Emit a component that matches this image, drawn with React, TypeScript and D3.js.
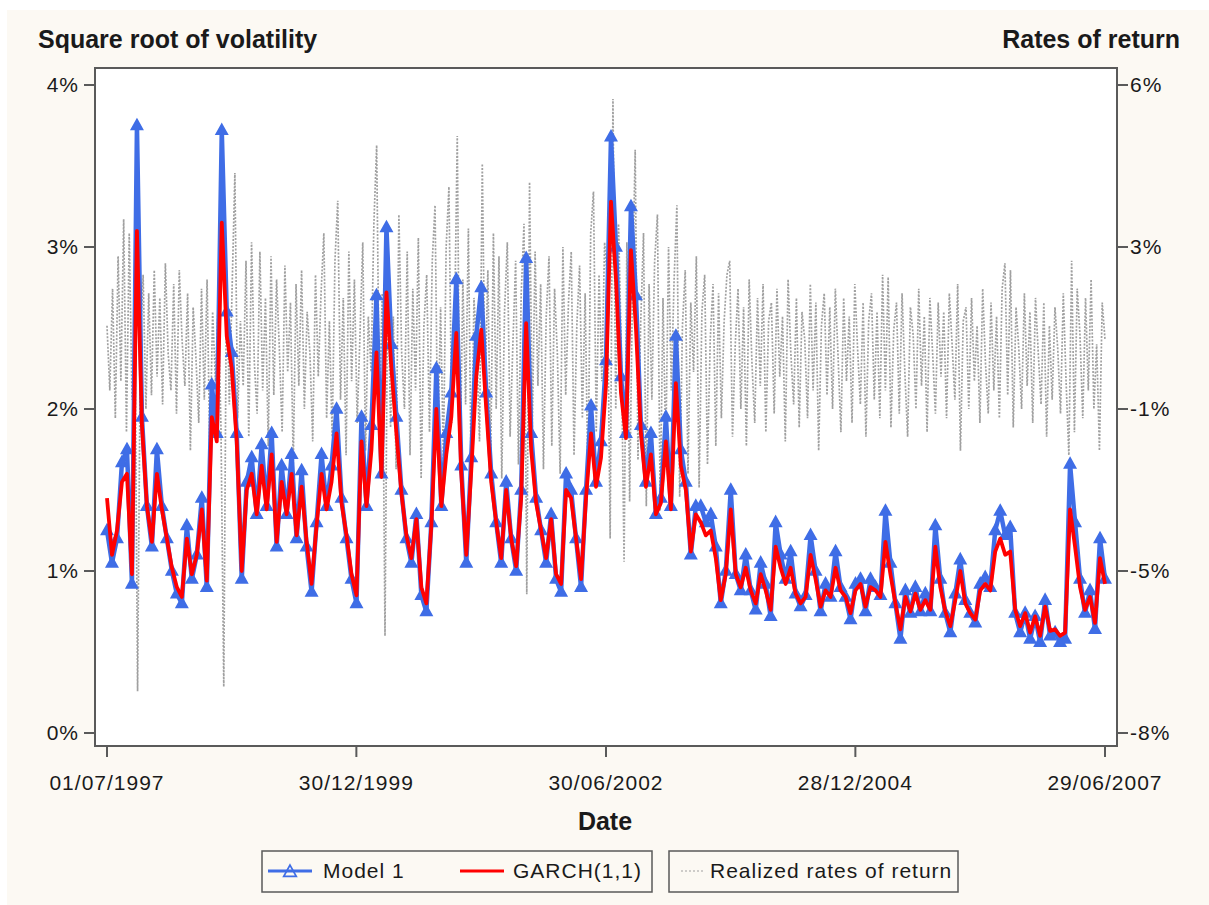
import React from 'react';
import * as d3 from 'd3';

// sampling window of the series
const startDate = new Date(1997, 6, 1);
const endDate = new Date(2007, 5, 29);

const dateTicks = ['1997-07-01', '1999-12-30', '2002-06-30', '2004-12-28', '2007-06-29'];
const volTicks = [0, 1, 2, 3, 4];

// square root of volatility, % (Model 1)
const model1 = [
  1.25, 1.05, 1.20, 1.67, 1.75, 0.92, 3.75, 1.95, 1.40, 1.15,
  1.75, 1.40, 1.20, 1.00, 0.86, 0.80, 1.28, 0.95, 1.10, 1.45,
  0.90, 2.15, 1.85, 3.72, 2.60, 2.35, 1.85, 0.95, 1.55, 1.70,
  1.35, 1.78, 1.40, 1.85, 1.15, 1.65, 1.35, 1.72, 1.20, 1.62,
  1.15, 0.87, 1.30, 1.72, 1.40, 1.65, 2.00, 1.45, 1.20, 0.95,
  0.80, 1.95, 1.40, 1.90, 2.70, 1.60, 3.12, 2.40, 1.95, 1.50,
  1.20, 1.05, 1.35, 0.85, 0.75, 1.30, 2.25, 1.40, 1.85, 2.10,
  2.80, 1.65, 1.05, 1.70, 2.45, 2.75, 2.10, 1.60, 1.30, 1.05,
  1.55, 1.20, 1.00, 1.50, 2.93, 1.85, 1.45, 1.25, 1.05, 1.35,
  0.95, 0.87, 1.60, 1.50, 1.20, 0.90, 1.50, 2.02, 1.55, 1.80,
  2.30, 3.68, 3.00, 2.20, 1.85, 3.25, 2.70, 1.90, 1.55, 1.85,
  1.35, 1.45, 1.95, 1.40, 2.45, 1.75, 1.55, 1.10, 1.40, 1.40,
  1.30, 1.35, 1.15, 0.80, 1.00, 1.50, 0.98, 0.88, 1.10, 0.88,
  0.76, 1.05, 0.92, 0.72, 1.30, 1.10, 0.95, 1.12, 0.86, 0.78,
  0.85, 1.22, 1.00, 0.75, 0.92, 0.84, 1.12, 0.90, 0.84, 0.70,
  0.92, 0.95, 0.75, 0.95, 0.90, 0.85, 1.37, 1.05, 0.80, 0.58,
  0.88, 0.74, 0.90, 0.75, 0.86, 0.75, 1.28, 0.95, 0.74, 0.62,
  0.86, 1.07, 0.82, 0.74, 0.68, 0.92, 0.96, 0.90, 1.25, 1.37,
  1.22, 1.27, 0.74, 0.62, 0.74, 0.58, 0.72, 0.56, 0.82, 0.60,
  0.62, 0.56, 0.58, 1.66, 1.30, 0.95, 0.74, 0.88, 0.64, 1.20,
  0.95
];

// square root of volatility, % (GARCH(1,1))
const garch = [
  1.45, 1.10, 1.25, 1.55, 1.60, 0.98, 3.10, 1.90, 1.40, 1.18,
  1.60, 1.38, 1.20, 1.02, 0.90, 0.84, 1.20, 0.98, 1.10, 1.38,
  0.94, 1.95, 1.80, 3.15, 2.45, 2.25, 1.80, 1.00, 1.50, 1.60,
  1.35, 1.65, 1.38, 1.72, 1.18, 1.55, 1.35, 1.60, 1.22, 1.52,
  1.18, 0.92, 1.28, 1.60, 1.38, 1.55, 1.85, 1.42, 1.22, 0.98,
  0.85, 1.80, 1.40, 1.75, 2.35, 1.58, 2.72, 2.25, 1.85, 1.48,
  1.22, 1.08, 1.32, 0.90, 0.80, 1.28, 2.00, 1.40, 1.72, 1.95,
  2.47, 1.60, 1.10, 1.62, 2.20, 2.49, 2.00, 1.55, 1.30, 1.08,
  1.50, 1.20, 1.03, 1.45, 2.53, 1.75, 1.42, 1.25, 1.08, 1.32,
  0.98, 0.92, 1.50, 1.45, 1.20, 0.95, 1.45, 1.85, 1.52, 1.70,
  2.15, 3.28, 2.80, 2.10, 1.82, 2.98, 2.50, 1.85, 1.52, 1.72,
  1.35, 1.42, 1.80, 1.38, 2.16, 1.65, 1.50, 1.12, 1.35, 1.30,
  1.22, 1.25, 1.08, 0.82, 0.98, 1.38, 0.98, 0.90, 1.02, 0.88,
  0.80, 0.98, 0.88, 0.76, 1.15, 1.02, 0.92, 1.02, 0.86, 0.80,
  0.84, 1.10, 0.95, 0.78, 0.88, 0.84, 1.02, 0.88, 0.84, 0.74,
  0.88, 0.92, 0.78, 0.90, 0.88, 0.84, 1.18, 0.98, 0.80, 0.64,
  0.84, 0.75, 0.86, 0.76, 0.82, 0.76, 1.15, 0.90, 0.75, 0.66,
  0.82, 1.00, 0.80, 0.74, 0.70, 0.88, 0.92, 0.88, 1.12, 1.20,
  1.10, 1.12, 0.76, 0.66, 0.74, 0.62, 0.72, 0.60, 0.78, 0.63,
  0.64, 0.60, 0.62, 1.38, 1.15, 0.90, 0.76, 0.84, 0.68, 1.08,
  0.92
];

// realized rates of return, %
const returns = [
  0.8, -0.6, 1.6, -1.2, 2.3, -0.4, 3.1, -1.5, 2.8, -0.8, 1.2, -7.1, 0.4, 1.9, -1.0, 1.5, -0.7, 2.0, -0.3, 1.4,
  -0.9, 2.15, 0.2, -0.6, 1.7, -1.1, 2.0, 0.5, -0.5, 1.5, -1.9, 1.2, 0.1, -1.3, 1.6, -0.8, 1.8, -2.0, 1.1, -0.4,
  1.3, -1.4, -7.0, 2.0, -0.9, 1.6, 4.1, -1.2, 0.9, -0.5, 2.2, -1.6, 2.6, 0.0, -1.1, 2.4, -0.6, 1.4, -1.8, 2.3,
  -0.7, 1.8, 0.3, -1.5, 2.1, -0.2, 1.3, -2.2, 1.7, -0.5, 2.0, -1.0, 1.1, 0.2, -1.7, 1.9, -0.3, 1.5, 2.8, -1.2,
  0.9, -1.6, 2.2, 3.5, -0.8, 1.4, -2.0, 2.4, -0.4, 1.8, -1.3, 0.6, 2.6, -1.9, 1.0, -0.2, 3.0, 4.7, -1.1, 1.5,
  -5.9, 2.1, -1.4, 1.0, -2.3, 3.2, 0.2, -1.0, 2.4, -2.0, 1.6, -0.6, 2.7, -2.5, 0.8, 1.9, -1.5, 2.2, 3.4, -1.8,
  1.2, -2.1, 2.5, 3.8, -1.3, 0.7, 4.9, -2.4, 1.8, -0.9, 2.9, -2.5, 1.4, 0.3, -1.7, 4.3, -0.6, 2.0, -2.2, 2.8,
  -1.0, 2.3, -2.5, 1.1, 2.6, -1.6, 0.4, 2.2, -2.2, 1.5, 3.0, -5.0, 3.9, -1.4, 2.4, -0.5, 1.7, -2.3, 1.0, 2.3,
  -1.8, 1.6, 0.2, -2.4, 2.5, -0.7, 1.3, 2.4, -2.0, 0.8, 2.1, -1.2, 1.5, -2.6, 2.8, 3.7, -1.5, 1.9, -0.4, 2.6,
  1.8, -3.8, 5.7, -1.0, 3.0, 0.4, -4.3, 2.6, -3.0, 1.5, 4.6, -2.1, 0.9, 2.8, -3.1, 1.7, -0.8, 2.2, 3.2, -3.2,
  1.4, -1.9, 2.5, -0.6, 1.8, 3.4, -2.9, 0.8, 2.0, -2.4, 1.3, -0.2, 2.3, -2.7, 1.1, 1.9, -2.2, 0.5, 1.7, -1.8,
  1.5, -1.2, 0.9, 1.9, 2.2, -1.6, 0.4, 1.6, -1.0, 1.2, -1.8, 1.8, 0.0, -1.3, 1.4, -0.5, 1.7, -1.5, 0.9, 1.3,
  -1.1, 1.6, -0.3, 1.0, -1.7, 1.8, 0.2, -0.9, 1.4, -1.4, 1.1, 0.5, -1.2, 1.7, -0.6, 1.3, -1.9, 0.8, 1.5, -0.7,
  1.2, -1.0, 1.6, 0.1, -1.5, 1.4, -0.4, 1.0, -1.3, 1.7, 0.3, -0.9, 1.3, -1.6, 0.9, 1.5, -0.8, 1.1, -1.2, 1.9,
  -0.6, 1.85, -1.4, 0.7, 1.3, -1.1, 1.5, -0.2, -1.6, 1.2, 0.6, -1.0, 1.6, -0.5, 1.0, -1.5, 1.4, 0.2, -1.1, 1.3,
  -0.3, 1.1, -1.2, 1.5, 0.4, -0.8, 1.7, -1.9, 0.9, 1.2, -1.0, 1.4, -0.4, 0.8, -1.3, 1.6, 0.0, -1.1, 1.3, -0.6,
  1.0, -1.2, 1.6, 2.15, -0.7, 2.0, -1.4, 1.2, 0.3, -1.0, 1.5, -0.5, 1.1, -1.3, 1.4, 0.2, -0.9, 1.3, -1.6, 0.8,
  -0.8, 1.2, 0.3, -1.1, 1.5, -0.4, -2.0, 2.2, -1.5, 1.6, 0.6, -1.2, 1.4, -0.6, 1.8, -1.0, 0.4, -1.9, 1.3, 0.5
];

const W = 1209;
const H = 905;
const frame = { left: 95, right: 1117, top: 68, bottom: 746 };

const BLUE = '#3f6de6';
const RED = '#ff0000';
const GREY = '#a0a0a0';
const INK = '#1a1a1a';
const FONT = '"Liberation Sans", Arial, sans-serif';

const parseDay = d3.timeParse('%Y-%m-%d');
const fmtDay = d3.timeFormat('%d/%m/%Y');

// spread n observations evenly over the sampling window
const datesFor = (n: number) => {
  const span = +endDate - +startDate;
  return d3.range(n).map(i => new Date(+startDate + (span * i) / (n - 1)));
};

const x = d3.scaleTime().domain([startDate, endDate]).range([107, 1105]);
const yVol = d3.scaleLinear().domain([0, 4]).range([733, 85]);
const yRet = d3.scaleLinear().domain([-8, 6]).range([733, 85]);

const pctRound = (v: number) => `${Math.sign(v) * Math.round(Math.abs(v))}%`;

const triangle = 'M0,-5.5 L5,3.5 L-5,3.5 Z';

export default function App() {
  const volDates = datesFor(model1.length);
  const retDates = datesFor(returns.length);

  const volLine = d3.line<number>()
    .x((_, i) => x(volDates[i]))
    .y(d => yVol(d));
  const retLine = d3.line<number>()
    .x((_, i) => x(retDates[i]))
    .y(d => yRet(d));

  const textStyle = { fontFamily: FONT, fontSize: 21, letterSpacing: 1, fill: INK } as const;
  const boldStyle = { fontFamily: FONT, fontSize: 25, fontWeight: 'bold', fill: INK } as const;

  return (
    <svg width={W} height={H} style={{ position: 'absolute', left: 0, top: 0, display: 'block' }}>
      <rect x={0} y={0} width={W} height={H} fill="#ffffff" />
      <rect x={7} y={10} width={W - 7} height={H - 10} fill="#fcf9f3" />

      <defs>
        <clipPath id="plotClip">
          <rect x={frame.left} y={frame.top} width={frame.right - frame.left} height={frame.bottom - frame.top} />
        </clipPath>
      </defs>

      <rect x={frame.left} y={frame.top} width={frame.right - frame.left} height={frame.bottom - frame.top} fill="#ffffff" />

      <g clipPath="url(#plotClip)">
        <path d={retLine(returns) || ''} fill="none" stroke={GREY} strokeWidth={1.7} strokeDasharray="2 1.5" />
        <path d={volLine(model1) || ''} fill="none" stroke={BLUE} strokeWidth={4.5} strokeLinejoin="round" />
        {model1.map((v, i) => (
          <path key={i} d={triangle} transform={`translate(${x(volDates[i])},${yVol(v)}) scale(1.1)`}
            fill={BLUE} stroke={BLUE} strokeWidth={1.6} />
        ))}
        <path d={volLine(garch) || ''} fill="none" stroke={RED} strokeWidth={3.8} strokeLinejoin="round" />
      </g>

      <rect x={frame.left} y={frame.top} width={frame.right - frame.left} height={frame.bottom - frame.top}
        fill="none" stroke="#5a5a5a" strokeWidth={2} />

      {/* left axis */}
      {volTicks.map(t => (
        <g key={`l${t}`}>
          <line x1={frame.left - 11} x2={frame.left} y1={yVol(t)} y2={yVol(t)} stroke="#5a5a5a" strokeWidth={2} />
          <text x={frame.left - 16} y={yVol(t)} dy="0.35em" textAnchor="end" style={textStyle}>{`${t}%`}</text>
        </g>
      ))}

      {/* right axis, aligned with the left ticks */}
      {volTicks.map(t => {
        const r = yRet.invert(yVol(t));
        return (
          <g key={`r${t}`}>
            <line x1={frame.right} x2={frame.right + 11} y1={yVol(t)} y2={yVol(t)} stroke="#5a5a5a" strokeWidth={2} />
            <text x={frame.right + 13} y={yVol(t)} dy="0.35em" textAnchor="start" style={textStyle}>{pctRound(r)}</text>
          </g>
        );
      })}

      {/* date axis */}
      {dateTicks.map(s => {
        const d = parseDay(s) as Date;
        return (
          <g key={s}>
            <line x1={x(d)} x2={x(d)} y1={frame.bottom} y2={frame.bottom + 11} stroke="#5a5a5a" strokeWidth={2} />
            <text x={x(d)} y={790} textAnchor="middle" style={textStyle}>{fmtDay(d)}</text>
          </g>
        );
      })}

      <text x={38} y={48} style={boldStyle}>Square root of volatility</text>
      <text x={1180} y={48} textAnchor="end" style={boldStyle}>Rates of return</text>
      <text x={605} y={830} textAnchor="middle" style={boldStyle}>Date</text>

      {/* legend */}
      <rect x={262} y={851} width={390} height={41} fill="none" stroke="#5a5a5a" strokeWidth={1.5} />
      <line x1={268} x2={312} y1={871} y2={871} stroke={BLUE} strokeWidth={3} />
      <path d={triangle} transform="translate(290,872) scale(1.25)" fill="none" stroke={BLUE} strokeWidth={1.4} />
      <text x={323} y={878} style={textStyle}>Model 1</text>
      <line x1={460} x2={504} y1={871} y2={871} stroke={RED} strokeWidth={3} />
      <text x={513} y={878} style={textStyle}>GARCH(1,1)</text>

      <rect x={669} y={851} width={289} height={41} fill="none" stroke="#5a5a5a" strokeWidth={1.5} />
      <line x1={681} x2={703} y1={871} y2={871} stroke={GREY} strokeWidth={1.2} strokeDasharray="2 2" />
      <text x={710} y={878} style={textStyle}>Realized rates of return</text>
    </svg>
  );
}
